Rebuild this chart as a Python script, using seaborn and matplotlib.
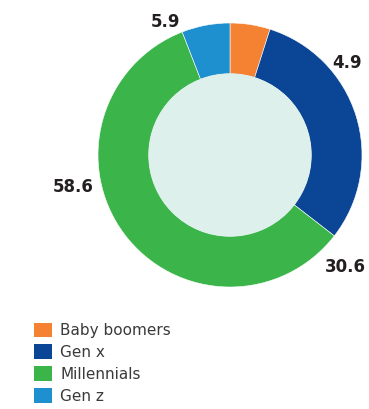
import matplotlib.pyplot as plt
import seaborn as sns
from matplotlib.patches import Circle, Patch

sns.set_style("white")
plt.rcParams['font.family'] = ['Liberation Sans Narrow', 'DejaVu Sans']

# data
groups = ["Baby boomers", "Gen x", "Millennials", "Gen z"]
shares = [4.9, 30.6, 58.6, 5.9]
colors = ["#F58233", "#0B4595", "#3BB54A", "#1E8FCF"]
value_labels = ["4.9", "30.6", "58.6", "5.9"]


def plot_donut():
    fig = plt.figure(figsize=(3.69, 4.09), dpi=100)
    ax = fig.add_axes([0, 0, 1, 1])

    cx, cy, r = 230, 254, 132
    ax.pie(shares, colors=colors, startangle=90, counterclock=False,
           center=(cx, cy), radius=r,
           wedgeprops=dict(width=51, edgecolor="white", linewidth=0.4))
    ax.add_patch(Circle((cx, cy), 81, color="#DDF0EB", zorder=3))

    ax.set_xlim(0, 369)
    ax.set_ylim(0, 409)
    ax.set_aspect("auto")
    ax.axis("off")

    # outside labels (as placed in the original)
    pos = [(347, 346), (345, 142), (73, 222), (165, 387)]
    for (x, y), t in zip(pos, value_labels):
        ax.text(x, y, t, ha="center", va="center", fontsize=12,
                fontweight="bold", color="#231F20")

    handles = [Patch(facecolor=c, edgecolor="none") for c in colors]
    ax.legend(handles, groups, loc="upper left", bbox_to_anchor=(0.055, 0.245),
              frameon=False, fontsize=11, handlelength=1.2, handleheight=1.1,
              handletextpad=0.5, labelspacing=0.42, labelcolor="#3A3A3A")

    fig.savefig("out.png", dpi=100)


def main():
    plot_donut()


if __name__ == "__main__":
    main()
